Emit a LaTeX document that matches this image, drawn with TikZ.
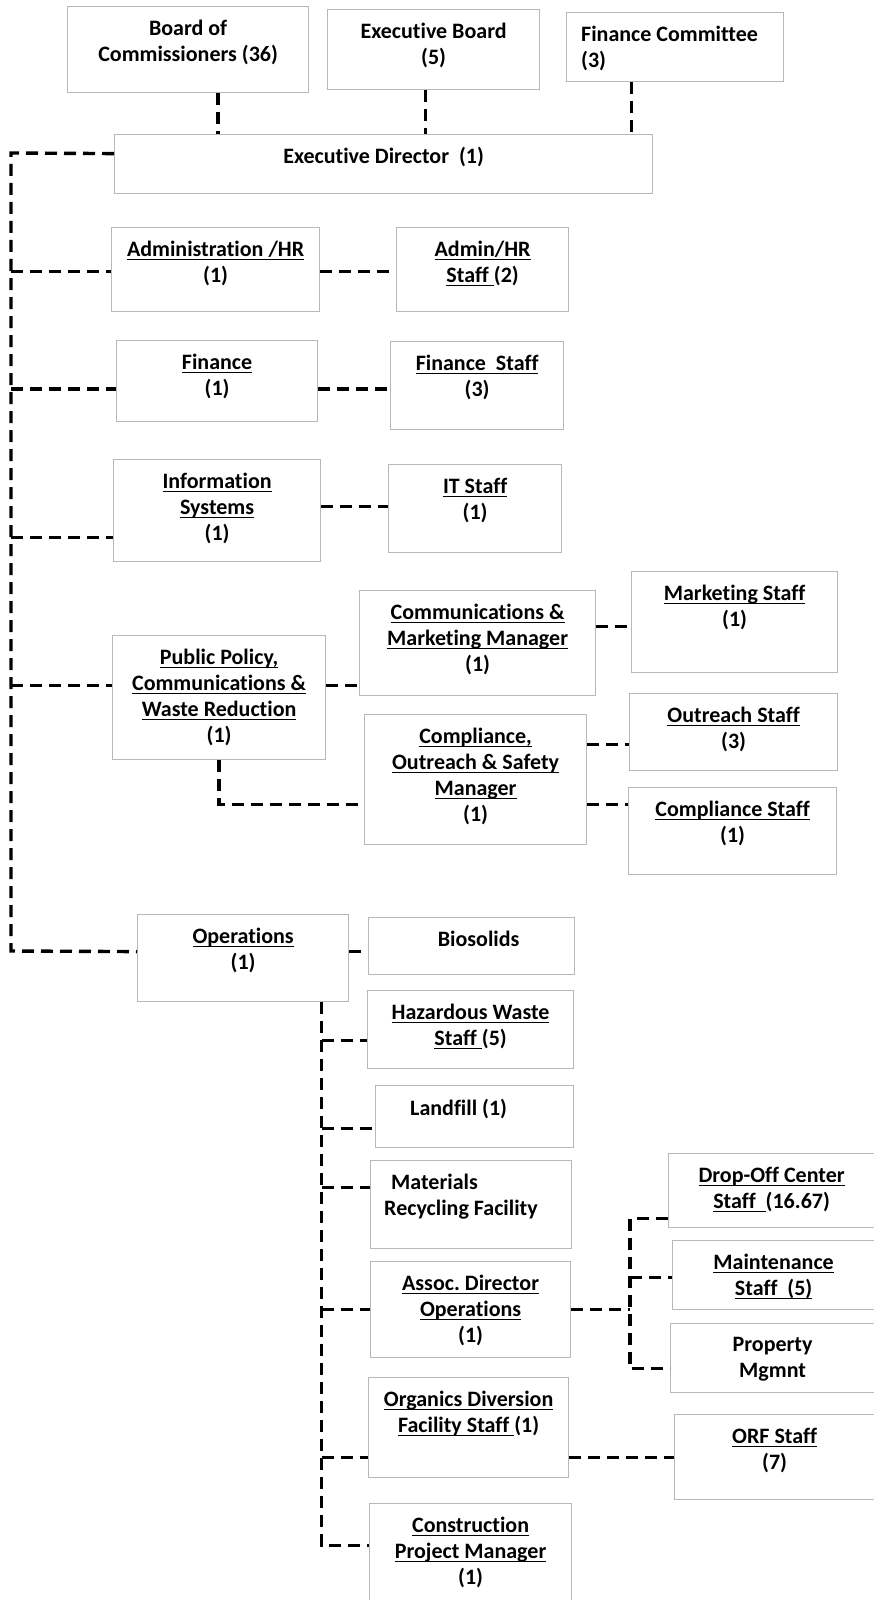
\documentclass[tikz,border=0pt]{standalone}
\usepackage{fontspec}
\setmainfont{Carlito}[Ligatures=NoCommon]
\usetikzlibrary{positioning}
\newsavebox{\ulbox}
\newcommand{\uln}[1]{\sbox\ulbox{#1}\rlap{\rule[-3.6pt]{\wd\ulbox}{1.3pt}}\usebox\ulbox}
\frenchspacing

\begin{document}
\begin{tikzpicture}[x=1pt, y=-1pt,
  box/.style={draw=black!28, line width=1.2pt, anchor=north west, inner sep=0pt},
  lbl/.style={inner sep=0pt, anchor=north, align=center, font=\fontsize{22}{25.9}\selectfont\bfseries},
  link/.style={line width=3.4pt, dash pattern=on 12pt off 7pt}]
\useasboundingbox (0,0) rectangle (874,1600);
% boards and director
\node [box, minimum width=241pt, minimum height=86pt] (boc) at (67,6) {};
\node [lbl, below=14pt of boc.north] (bocT) {Board of\\Commissioners (36)};
\node [box, minimum width=212pt, minimum height=80pt] (eb) at (327,9) {};
\node [lbl, below=14pt of eb.north] (ebT) {Executive Board\\(5)};
\node [box, minimum width=217pt, minimum height=69pt] (fc) at (566,12) {};
\node [lbl, align=left, below right=14pt and 15pt of fc.north west] (fcT) {Finance Committee\\(3)};
\node [box, minimum width=538pt, minimum height=59pt] (ed) at (114,134) {};
\node [lbl, below=13pt of ed.north] (edT) {Executive Director\ \ (1)};
% departments
\node [box, minimum width=208pt, minimum height=84pt] (adm) at (111,227) {};
\node [lbl, below=14pt of adm.north] (admT) {\uln{Administration /HR}\\(1)};
\node [box, minimum width=172pt, minimum height=84pt] (ads) at (396,227) {};
\node [lbl, below=14pt of ads.north] (adsT) {\uln{Admin/HR}\\\uln{Staff\ }(2)};
\node [box, minimum width=201pt, minimum height=81pt] (fin) at (116,340) {};
\node [lbl, below=14pt of fin.north] (finT) {\uln{Finance}\\(1)};
\node [box, minimum width=173pt, minimum height=88pt] (fns) at (390,341) {};
\node [lbl, below=14pt of fns.north] (fnsT) {\uln{Finance\ \ Staff}\\(3)};
\node [box, minimum width=207pt, minimum height=102pt] (inf) at (113,459) {};
\node [lbl, below=14pt of inf.north] (infT) {\uln{Information}\\\uln{Systems}\\(1)};
\node [box, minimum width=173pt, minimum height=88pt] (its) at (388,464) {};
\node [lbl, below=14pt of its.north] (itsT) {\uln{IT Staff}\\(1)};
% public policy
\node [box, minimum width=213pt, minimum height=124pt] (pp) at (112,635) {};
\node [lbl, below=14pt of pp.north] (ppT) {\uln{Public Policy,}\\\uln{Communications \&}\\\uln{Waste Reduction}\\(1)};
\node [box, minimum width=236pt, minimum height=105pt] (cmm) at (359,590) {};
\node [lbl, below=14pt of cmm.north] (cmmT) {\uln{Communications \&}\\\uln{Marketing Manager}\\(1)};
\node [box, minimum width=206pt, minimum height=101pt] (mks) at (631,571) {};
\node [lbl, below=14pt of mks.north] (mksT) {\uln{Marketing Staff}\\(1)};
\node [box, minimum width=222pt, minimum height=130pt] (cos) at (364,714) {};
\node [lbl, below=14pt of cos.north] (cosT) {\uln{Compliance,}\\\uln{Outreach \& Safety}\\\uln{Manager}\\(1)};
\node [box, minimum width=208pt, minimum height=77pt] (ors) at (629,693) {};
\node [lbl, below=14pt of ors.north] (orsT) {\uln{Outreach Staff}\\(3)};
\node [box, minimum width=208pt, minimum height=87pt] (cps) at (628,787) {};
\node [lbl, below=14pt of cps.north] (cpsT) {\uln{Compliance Staff}\\(1)};
% operations
\node [box, minimum width=211pt, minimum height=87pt] (ops) at (137,914) {};
\node [lbl, below=14pt of ops.north] (opsT) {\uln{Operations}\\(1)};
\node [box, minimum width=206pt, minimum height=57pt] (bio) at (368,917) {};
\node [lbl, below=14pt of bio.north, xshift=7pt] (bioT) {Biosolids};
\node [box, minimum width=206pt, minimum height=78pt] (haz) at (367,990) {};
\node [lbl, below=14pt of haz.north] (hazT) {\uln{Hazardous Waste}\\\uln{Staff\ }(5)};
\node [box, minimum width=198pt, minimum height=62pt] (lnd) at (375,1085) {};
\node [lbl, below=14pt of lnd.north, xshift=-16pt] (lndT) {Landfill (1)};
\node [box, minimum width=201pt, minimum height=88pt] (mat) at (370,1160) {};
\node [lbl, align=left, below right=14pt and 14pt of mat.north west] (matT) {\hspace*{7pt}Materials\\Recycling Facility};
\node [box, minimum width=200pt, minimum height=96pt] (asc) at (370,1261) {};
\node [lbl, below=14pt of asc.north] (ascT) {\uln{Assoc. Director}\\\uln{Operations}\\(1)};
\node [box, minimum width=200pt, minimum height=100pt] (org) at (368,1377) {};
\node [lbl, below=14pt of org.north] (orgT) {\uln{Organics Diversion}\\\uln{Facility Staff\ }(1)};
\node [box, minimum width=202pt, minimum height=100pt] (con) at (369,1503) {};
\node [lbl, below=14pt of con.north] (conT) {\uln{Construction}\\\uln{Project Manager}\\(1)};
\node [box, minimum width=206pt, minimum height=74pt] (dro) at (668,1153) {};
\node [lbl, below=14pt of dro.north] (droT) {\uln{Drop-Off Center}\\\uln{Staff\ \ }(16.67)};
\node [box, minimum width=202pt, minimum height=69pt] (mnt) at (672,1240) {};
\node [lbl, below=14pt of mnt.north] (mntT) {\uln{Maintenance}\\\uln{Staff\ \ (5)}};
\node [box, minimum width=204pt, minimum height=69pt] (prp) at (670,1323) {};
\node [lbl, below=14pt of prp.north] (prpT) {Property\\Mgmnt};
\node [box, minimum width=200pt, minimum height=85pt] (orf) at (674,1414) {};
\node [lbl, below=14pt of orf.north] (orfT) {\uln{ORF Staff}\\(7)};
% links to director
\draw [link] ([xshift=30pt]boc.south) -- ([xshift=30pt]boc.south |- ed.north);
\draw [link] ([xshift=-8pt]eb.south) -- ([xshift=-8pt]eb.south |- ed.north);
\draw [link] ([xshift=-43.5pt]fc.south) -- ([xshift=-43.5pt]fc.south |- ed.north);
% main bus
\coordinate (busT) at (11,153);
\coordinate (busB) at (11,951);
\draw [link] ([yshift=10.5pt]ed.west) -- (busT) -- (busB) -- ([yshift=6.5pt]ops.west);
\draw [link] ([yshift=-2pt]adm.west -| busT) -- ([yshift=-2pt]adm.west);
\draw [link] ([yshift=-2pt]adm.east) -- ([yshift=-2pt]adm.east -| ads.west);
\draw [link] ([yshift=-8pt]fin.west -| busT) -- ([yshift=-8pt]fin.west);
\draw [link] ([yshift=-8pt]fin.east) -- ([yshift=-8pt]fin.east -| fns.west);
\draw [link] ([yshift=-27pt]inf.west -| busT) -- ([yshift=-27pt]inf.west);
\draw [link] ([yshift=4pt]inf.east) -- ([yshift=4pt]inf.east -| its.west);
\draw [link] ([yshift=12pt]pp.west -| busT) -- ([yshift=12pt]pp.west);
\draw [link] ([yshift=12pt]pp.east) -- ([yshift=12pt]pp.east -| cmm.west);
\draw [link] ([yshift=16.5pt]cmm.east) -- ([yshift=16.5pt]cmm.east -| mks.west);
\draw [link] (pp.south) |- ([yshift=-25pt]cos.west);
\draw [link] ([yshift=35pt]cos.east) -- ([yshift=35pt]cos.east -| ors.west);
\draw [link] ([yshift=-25pt]cos.east) -- ([yshift=-25pt]cos.east -| cps.west);
% operations bus
\draw [link] ([yshift=6.5pt]ops.east) -- ([yshift=6.5pt]ops.east -| bio.west);
\coordinate (opsBus) at ([xshift=78.5pt]ops.south);
\draw [link] (opsBus) |- ([yshift=8pt]con.west);
\draw [link] ([yshift=-11pt]haz.west -| opsBus) -- ([yshift=-11pt]haz.west);
\draw [link] ([yshift=-12pt]lnd.west -| opsBus) -- ([yshift=-12pt]lnd.west);
\draw [link] ([yshift=17pt]mat.west -| opsBus) -- ([yshift=17pt]mat.west);
\draw [link] (asc.west -| opsBus) -- (asc.west);
\draw [link] ([yshift=-30pt]org.west -| opsBus) -- ([yshift=-30pt]org.west);
% associate director bus
\coordinate (subBus) at (630,1300);
\draw [link] (asc.east) -- (asc.east -| subBus);
\draw [link] ([yshift=-28pt]dro.west) -- ([yshift=-28pt]dro.west -| subBus) |- ([yshift=-10.5pt]prp.west);
\draw [link] ([yshift=-2.5pt]mnt.west -| subBus) -- ([yshift=-2.5pt]mnt.west);
\draw [link] ([yshift=-30pt]org.east) -- ([yshift=-30pt]org.east -| orf.west);
\end{tikzpicture}
\end{document}
